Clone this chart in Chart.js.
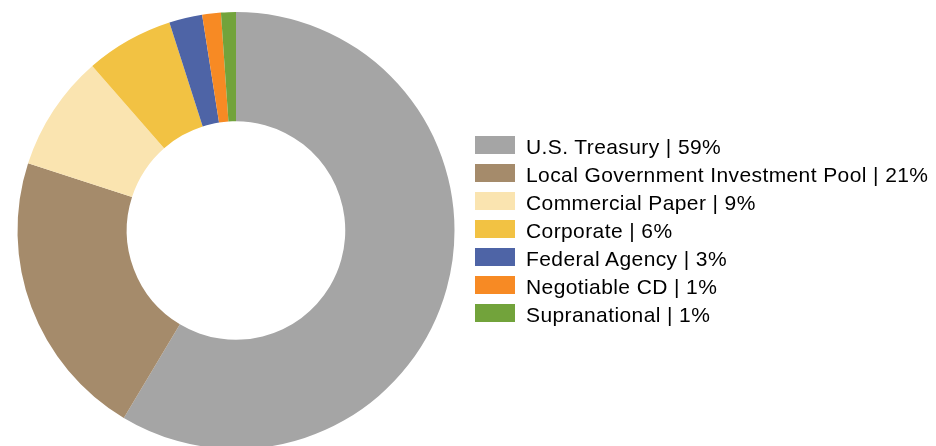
<!DOCTYPE html>
<html>
<head>
<meta charset="utf-8">
<script src="https://cdn.jsdelivr.net/npm/chart.js@4"></script>
<style>
  html, body { margin: 0; padding: 0; background: #ffffff; overflow: hidden; width: 936px; height: 446px; }
  #wrap { position: relative; width: 936px; height: 460px; }
  #legend { position: absolute; left: 475px; top: 136px; font-family: "Liberation Sans", Arial, sans-serif; font-size: 21px; letter-spacing: 0.4px; color: #000; }
  .row { position: relative; height: 28px; white-space: nowrap; }
  .box { position: absolute; left: 0; top: 0; width: 40px; height: 18px; }
  .txt { position: absolute; left: 51px; top: -1px; line-height: 24px; }
</style>
</head>
<body>
<div id="wrap">
  <canvas id="c" width="936" height="460"></canvas>
  <div id="legend"></div>
</div>
<script>
const categories = ["U.S. Treasury", "Local Government Investment Pool", "Commercial Paper", "Corporate", "Federal Agency", "Negotiable CD", "Supranational"];
const values = [58.6, 21.4, 8.6, 6.5, 2.45, 1.38, 1.1];
const shownPercents = ["59%", "21%", "9%", "6%", "3%", "1%", "1%"];
const colors = ["#A5A5A5", "#A58B6B", "#FAE4B0", "#F2C243", "#4E64A6", "#F78A24", "#72A33B"];

const labels = categories.map((c, i) => c + " | " + shownPercents[i]);

const chart = new Chart(document.getElementById("c"), {
  type: "doughnut",
  data: {
    labels: labels,
    datasets: [{
      data: values,
      backgroundColor: colors,
      borderWidth: 0,
      hoverOffset: 0
    }]
  },
  options: {
    responsive: false,
    animation: false,
    cutout: "50%",
    layout: { padding: { left: 17, top: 12, right: 481, bottom: 11 } },
    plugins: {
      legend: { display: false },
      tooltip: { enabled: false }
    }
  }
});

const legend = document.getElementById("legend");
chart.data.labels.forEach((lab, i) => {
  const row = document.createElement("div");
  row.className = "row";
  const box = document.createElement("div");
  box.className = "box";
  box.style.background = chart.data.datasets[0].backgroundColor[i];
  const t = document.createElement("div");
  t.className = "txt";
  t.textContent = lab;
  row.appendChild(box);
  row.appendChild(t);
  legend.appendChild(row);
});
</script>
</body>
</html>
